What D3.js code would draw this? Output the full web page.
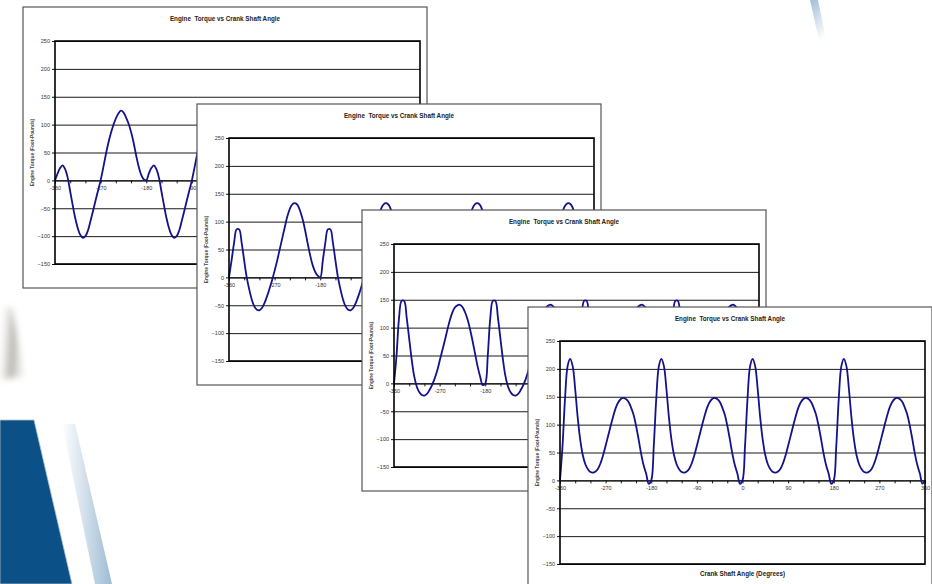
<!DOCTYPE html>
<html>
<head>
<meta charset="utf-8">
<script src="https://cdn.jsdelivr.net/npm/d3@7"></script>
<style>
    body { margin: 0; background: white; }
    svg { display: block; font-family: "Liberation Sans", Arial, sans-serif; }
    .tick text { fill: #333; font-size: 5.5px; }
    .tick line { stroke: #111; }
</style>
</head>
<body>
<svg id="svg" width="932" height="584"></svg>
<script>
// categories: crank angle every 5 degrees
const angles = d3.range(-360, 361, 5);
const xTicks = [-360, -330, -300, -270, -240, -210, -180, -150, -120, -90, -60, -30, 0, 30, 60, 90, 120, 150, 180, 210, 240, 270, 300, 330, 360];
const xLabels = [-360, -270, -180, -90, 0, 90, 180, 270, 360];
const yTicks = [-150, -100, -50, 0, 50, 100, 150, 200, 250];
const chartTitle = "Engine  Torque vs Crank Shaft Angle";
const xTitle = "Crank Shaft Angle (Degrees)";
const yTitle = "Engine Torque (Foot-Pounds)";

const torque1 = [
    0, 12, 22, 27, 20, 5, -20, -45, -68, -86, -98, -103, -100, -90, -73, -55, -36, -18, 0, 22, 45, 66, 84, 99, 111, 120, 125, 122, 113, 102, 87, 68, 45, 25, 10, 2,
    0, 12, 22, 27, 20, 5, -20, -45, -68, -86, -98, -103, -100, -90, -73, -55, -36, -18, 0, 22, 45, 66, 84, 99, 111, 120, 125, 122, 113, 102, 87, 68, 45, 25, 10, 2,
    0, 12, 22, 27, 20, 5, -20, -45, -68, -86, -98, -103, -100, -90, -73, -55, -36, -18, 0, 22, 45, 66, 84, 99, 111, 120, 125, 122, 113, 102, 87, 68, 45, 25, 10, 2,
    0, 12, 22, 27, 20, 5, -20, -45, -68, -86, -98, -103, -100, -90, -73, -55, -36, -18, 0, 22, 45, 66, 84, 99, 111, 120, 125, 122, 113, 102, 87, 68, 45, 25, 10, 2,
    0];
const torque2 = [
    0, 30, 62, 86, 86, 62, 30, 0, -22, -40, -52, -58, -59, -55, -46, -34, -20, -5, 12, 30, 50, 70, 90, 109, 123, 131, 133, 130, 120, 105, 85, 62, 40, 22, 10, 3,
    0, 30, 62, 86, 86, 62, 30, 0, -22, -40, -52, -58, -59, -55, -46, -34, -20, -5, 12, 30, 50, 70, 90, 109, 123, 131, 133, 130, 120, 105, 85, 62, 40, 22, 10, 3,
    0, 30, 62, 86, 86, 62, 30, 0, -22, -40, -52, -58, -59, -55, -46, -34, -20, -5, 12, 30, 50, 70, 90, 109, 123, 131, 133, 130, 120, 105, 85, 62, 40, 22, 10, 3,
    0, 30, 62, 86, 86, 62, 30, 0, -22, -40, -52, -58, -59, -55, -46, -34, -20, -5, 12, 30, 50, 70, 90, 109, 123, 131, 133, 130, 120, 105, 85, 62, 40, 22, 10, 3,
    0];
const torque3 = [
    0, 50, 118, 148, 148, 118, 80, 42, 12, -6, -16, -21, -22, -19, -12, -3, 8, 22, 40, 58, 76, 95, 113, 127, 136, 140, 141, 137, 128, 115, 97, 76, 53, 30, 12, -3,
    0, 50, 118, 148, 148, 118, 80, 42, 12, -6, -16, -21, -22, -19, -12, -3, 8, 22, 40, 58, 76, 95, 113, 127, 136, 140, 141, 137, 128, 115, 97, 76, 53, 30, 12, -3,
    0, 50, 118, 148, 148, 118, 80, 42, 12, -6, -16, -21, -22, -19, -12, -3, 8, 22, 40, 58, 76, 95, 113, 127, 136, 140, 141, 137, 128, 115, 97, 76, 53, 30, 12, -3,
    0, 50, 118, 148, 148, 118, 80, 42, 12, -6, -16, -21, -22, -19, -12, -3, 8, 22, 40, 58, 76, 95, 113, 127, 136, 140, 141, 137, 128, 115, 97, 76, 53, 30, 12, -3,
    0];
const torque4 = [
    0, 62, 148, 205, 218, 205, 163, 112, 72, 45, 29, 20, 15, 14, 16, 21, 31, 45, 62, 80, 98, 115, 130, 140, 146, 148, 146, 141, 131, 118, 98, 74, 48, 27, 12, -6,
    0, 62, 148, 205, 218, 205, 163, 112, 72, 45, 29, 20, 15, 14, 16, 21, 31, 45, 62, 80, 98, 115, 130, 140, 146, 148, 146, 141, 131, 118, 98, 74, 48, 27, 12, -6,
    0, 62, 148, 205, 218, 205, 163, 112, 72, 45, 29, 20, 15, 14, 16, 21, 31, 45, 62, 80, 98, 115, 130, 140, 146, 148, 146, 141, 131, 118, 98, 74, 48, 27, 12, -6,
    0, 62, 148, 205, 218, 205, 163, 112, 72, 45, 29, 20, 15, 14, 16, 21, 31, 45, 62, 80, 98, 115, 130, 140, 146, 148, 146, 141, 131, 118, 98, 74, 48, 27, 12, -6,
    0];

const PW = 404, PH = 281,
    M = {l: 32, t: 34},
    w = 365, h = 223,
    origins = [[23, 7], [197, 104], [362, 210], [528, 307]],
    svg = d3.select("#svg"),
    x = d3.scaleLinear().domain([-360, 360]).range([0, w]),
    y = d3.scaleLinear().domain([-150, 250]).range([h, 0]);

// slide background decoration
const defs = svg.append("defs");
function grad(id, x2, y2, stops) {
    const lg = defs.append("linearGradient").attr("id", id).attr("x1", 0).attr("y1", 0).attr("x2", x2).attr("y2", y2);
    stops.forEach(s => lg.append("stop").attr("offset", s[0]).attr("stop-color", s[1]).attr("stop-opacity", s[2]));
}
grad("stripe", 1, 0, [[0, "#ffffff", 1], [1, "#9dbbd3", 1]]);
grad("stripeTop", 0.3, 1, [[0, "#a3bfd6", 1], [1, "#ffffff", 1]]);
grad("smoke", 1, 0.2, [[0, "#ffffff", 0], [0.6, "#aaa8a0", 0.9], [1, "#d8d8d2", 0.5]]);
defs.append("filter").attr("id", "blur").append("feGaussianBlur").attr("stdDeviation", 3);

svg.append("polygon").attr("points", "0,306 12,308 24,376 0,380").style("fill", "url(#smoke)").attr("filter", "url(#blur)");
svg.append("polygon").attr("points", "0,420 34,420 72,584 0,584").style("fill", "#0b5188").style("stroke", "#b8c0c8").style("stroke-width", 0.8);
svg.append("polygon").attr("points", "62,424 75,424 112,584 95,584").style("fill", "url(#stripe)");
svg.append("polygon").attr("points", "810,0 818,0 827,45 820,45").style("fill", "url(#stripeTop)");

const line = d3.line().x((d, i) => x(angles[i])).y(d => y(d)).curve(d3.curveCatmullRom);

function drawPanel(o, values, last) {
    const g = svg.append("g").attr("transform", `translate(${o[0]}, ${o[1]})`);
    g.append("rect").attr("width", PW).attr("height", PH).style("fill", "white").style("stroke", "#555").style("stroke-width", 1.2);
    g.append("text").attr("x", PW / 2).attr("y", 13.5).attr("text-anchor", "middle").style("white-space", "pre")
        .style("font-size", "6.3px").style("font-weight", "bold").style("fill", "#222").text(chartTitle);
    // the axis title only shows on the front chart, the others hide it under the next one
    if (last) {
        g.append("text").attr("x", M.l + w / 2).attr("y", 269).attr("text-anchor", "middle")
            .style("font-size", "6.3px").style("font-weight", "bold").style("fill", "#222").text(xTitle);
    }

    const p = g.append("g").attr("transform", `translate(${M.l}, ${M.t})`);
    p.append("text").attr("transform", `translate(-21, ${h / 2}) rotate(-90)`).attr("text-anchor", "middle")
        .style("font-size", "4.8px").style("font-weight", "bold").style("fill", "#444").text(yTitle);

    p.append("g").attr("class", "grid").call(d3.axisLeft(y).tickValues(yTicks).tickSize(-w).tickFormat(""))
        .call(s => s.select(".domain").remove())
        .call(s => s.selectAll("line").style("stroke", "#1a1a1a").style("stroke-width", 1));
    p.append("g").attr("class", "axis").call(d3.axisLeft(y).tickValues(yTicks).tickSize(3).tickPadding(2))
        .call(s => s.select(".domain").remove());
    p.append("g").attr("class", "axis").attr("transform", `translate(0, ${y(0)})`)
        .call(d3.axisBottom(x).tickValues(xTicks).tickSize(3).tickPadding(3).tickFormat(d => xLabels.includes(d) ? d : ""))
        .call(s => s.select(".domain").style("stroke", "#000"));

    p.append("path").datum(values).attr("d", line)
        .style("fill", "none").style("stroke", "#12128a").style("stroke-width", 1.8);
    p.append("rect").attr("width", w).attr("height", h).style("fill", "none").style("stroke", "#000").style("stroke-width", 1.6);
}

[torque1, torque2, torque3, torque4].forEach((v, i) => drawPanel(origins[i], v, i === 3));
</script>
</body>
</html>
